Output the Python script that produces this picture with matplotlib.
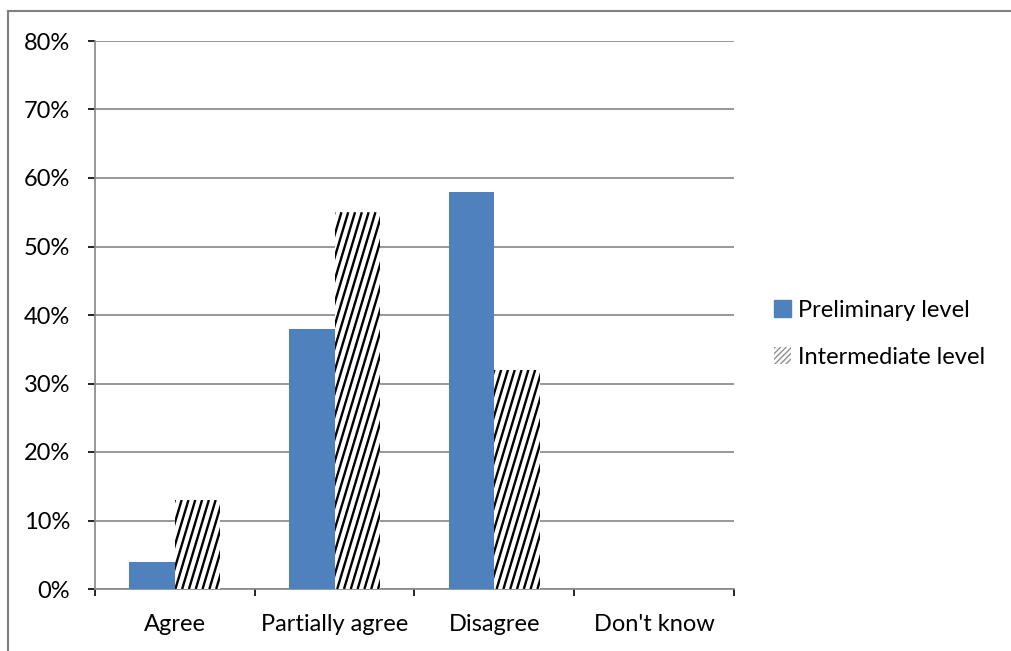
import numpy as np
import matplotlib.pyplot as plt
from matplotlib.patches import Patch
from matplotlib.lines import Line2D

categories = ["Agree", "Partially agree", "Disagree", "Don't know"]
preliminary = [4, 38, 58, 0]
intermediate = [13, 55, 32, 0]
y_ticks = [0, 10, 20, 30, 40, 50, 60, 70, 80]

BLUE = "#4F81BD"
GRID = "#868686"

plt.rcParams['font.family'] = ['Lato', 'DejaVu Sans']

W, H = 1011, 651
top, bottom = 41, 589
fig = plt.figure(figsize=(W / 100, H / 100), dpi=100)
ax = fig.add_axes([95 / W, (H - bottom) / H, (734 - 95) / W, (bottom - top) / H])

x = np.arange(len(categories))
bw = 0.285
ax.set_xlim(-0.5, len(categories) - 0.5)
ax.set_ylim(0, 80)

ax.bar(x - bw / 2, preliminary, bw, color=BLUE, zorder=3)
hatched = ax.bar(x + bw / 2, intermediate, bw, color="white", linewidth=0, zorder=3)

# steep diagonal hatching, drawn as clipped lines in pixel units
px_x = len(categories) / (734 - 95)
px_y = 80 / (bottom - top)
spacing = 6.8
slope = 0.3
for rect, val in zip(hatched, intermediate):
    if val <= 0:
        continue
    x0 = rect.get_x()
    x1 = x0 + rect.get_width()
    h_px = val / px_y
    rise = h_px * slope * px_x
    bx = x0 - rise - spacing * px_x
    while bx < x1 + spacing * px_x:
        ln = Line2D([bx, bx + rise], [0, val], color="black", lw=1.7,
                    zorder=4, solid_capstyle="butt")
        ax.add_line(ln)
        ln.set_clip_path(rect)
        bx += spacing * px_x

ax.set_yticks(y_ticks)
ax.set_yticklabels([f"{v}%" for v in y_ticks])
ax.yaxis.grid(True, color=GRID, lw=1.2, zorder=0)
ax.set_axisbelow(True)

ax.set_xticks(np.arange(len(categories) + 1) - 0.5)
ax.set_xticklabels([])
ax.set_xticks(x, minor=True)
ax.set_xticklabels(categories, minor=True)
ax.tick_params(axis='x', which='minor', length=0, pad=18)
ax.tick_params(axis='x', which='major', length=5, width=1.2, color=GRID)
ax.tick_params(axis='y', length=5, width=1.2, color=GRID, pad=13)
ax.tick_params(labelsize=17, colors="black")
for lab in ax.get_xticklabels(minor=True):
    lab.set_fontsize(17)

for side in ("top", "right"):
    ax.spines[side].set_visible(False)
for side in ("left", "bottom"):
    ax.spines[side].set_color(GRID)
    ax.spines[side].set_linewidth(1.2)

handles = [Patch(facecolor=BLUE, edgecolor=BLUE),
           Patch(facecolor="white", edgecolor="#909090", hatch="//////", linewidth=0)]
fig.legend(handles, ["Preliminary level", "Intermediate level"],
           loc="center left", bbox_to_anchor=(774 / W, 1 - 334 / H),
           frameon=False, fontsize=17, handlelength=0.7, handleheight=0.7,
           handletextpad=0.3, labelspacing=1.1, borderaxespad=0, borderpad=0)

# outer frame of the figure
fig.add_artist(Line2D([8 / W, 8 / W], [0, 1 - 11 / H], transform=fig.transFigure,
                      color="#808080", lw=1.5))
fig.add_artist(Line2D([8 / W, 1], [1 - 11 / H, 1 - 11 / H], transform=fig.transFigure,
                      color="#808080", lw=1.5))

fig.savefig("out.png", dpi=100)
